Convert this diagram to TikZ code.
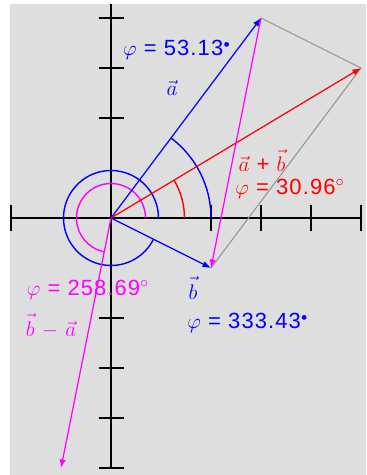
\documentclass[tikz,border=0pt]{standalone}
\usepackage{fontspec}
\setmainfont{Liberation Sans}
\newfontfamily\labelfont[LetterSpace=5]{Liberation Sans}
\usetikzlibrary{arrows.meta}

\definecolor{panelgray}{RGB}{222,222,222}
\definecolor{framegray}{RGB}{150,150,150}
\definecolor{vecblue}{RGB}{0,0,255}
\definecolor{vecred}{RGB}{255,0,0}
\definecolor{vecpink}{RGB}{255,0,255}

% vector b with its arrow lifted a little
\newcommand{\vecbee}{\vec{b\rule{0pt}{0.76em}}}

\begin{document}
\begin{tikzpicture}[
        axis/.style={
            draw=black,
            line width=1.1pt
        },
        vec/.style={
            -{Latex[length=1.7mm,width=1.3mm]},
            line width=0.7pt
        },
        helper/.style={
            draw=framegray,
            line width=0.6pt
        },
        anglearc/.style={
            line width=0.8pt
        },
        vlabel/.style={
            font=\labelfont\fontsize{12.5}{14}\selectfont,
            inner sep=0pt
        }
    ]

        % ---------------------------------------------------------------------
        % Panel and axes
        % ---------------------------------------------------------------------

        \useasboundingbox (-2.22,-5.14) rectangle (5.1,4.36);
        \fill[panelgray] (-2.02,-5.14) rectangle (5.1,4.28);

        \draw[axis] (-2,0) -- (5,0);
        \draw[axis] (0,4.28) -- (0,-5);

        \foreach \x in {-2,2,3,4,5}
            \draw[axis] (\x,-0.25) -- (\x,0.25);
        \foreach \y in {4,3,2,-2,-3,-4,-5}
            \draw[axis] (-0.25,\y) -- (0.25,\y);

        % ---------------------------------------------------------------------
        % Points
        % ---------------------------------------------------------------------

        \coordinate (O) at (0,0);
        \coordinate (A) at (3,4);
        \coordinate (B) at (2,-1);
        \coordinate (S) at (5,3);
        \coordinate (D) at (-1,-5);

        % ---------------------------------------------------------------------
        % Parallelogram
        % ---------------------------------------------------------------------

        \draw[helper] (A) -- (S);
        \draw[helper] (B) -- (S);

        % ---------------------------------------------------------------------
        % Angle arcs
        % ---------------------------------------------------------------------

        \draw[anglearc, vecblue] (2,0) arc[start angle=0, end angle=53.13, radius=2];
        \draw[anglearc, vecred] (1.47,0) arc[start angle=0, end angle=30.96, radius=1.47];
        \draw[anglearc, vecblue] (0.95,0) arc[start angle=0, end angle=333.43, radius=0.95];
        \draw[anglearc, vecpink] (0.69,0) arc[start angle=0, end angle=258.69, radius=0.69];

        % ---------------------------------------------------------------------
        % Vectors
        % ---------------------------------------------------------------------

        \draw[vec, vecblue] (O) -- (A);
        \draw[vec, vecblue] (O) -- (B);
        \draw[vec, vecred] (O) -- (S);
        \draw[vec, vecpink] (A) -- (B);
        \draw[vec, vecpink] (O) -- (D);

        % ---------------------------------------------------------------------
        % Labels
        % ---------------------------------------------------------------------

        \node[vlabel, vecblue] (phiA) at (1.32,3.36) {$\varphi$ = 53.13$^{\scriptscriptstyle\bullet}$};
        \node[vlabel, vecblue] (nameA) at (1.22,2.6) {$\vec{a}$};

        \node[vlabel, vecred] (nameS) at (3.02,1.15) {$\vec{a}$ + $\vecbee$};
        \node[vlabel, vecred] (phiS) at (3.58,0.58) {$\varphi$ = 30.96$^{\circ}$};

        \node[vlabel, vecblue] (nameB) at (1.64,-1.4) {$\vecbee$};
        \node[vlabel, vecblue] (phiB) at (2.74,-2.1) {$\varphi$ = 333.43$^{\scriptscriptstyle\bullet}$};

        \node[vlabel, vecpink] (phiD) at (-0.46,-1.44) {$\varphi$ = 258.69$^{\circ}$};
        \node[vlabel, vecpink] (nameD) at (-1.2,-2.16) {$\vecbee$ $-$ $\vec{a}$};

    \end{tikzpicture}
\end{document}
